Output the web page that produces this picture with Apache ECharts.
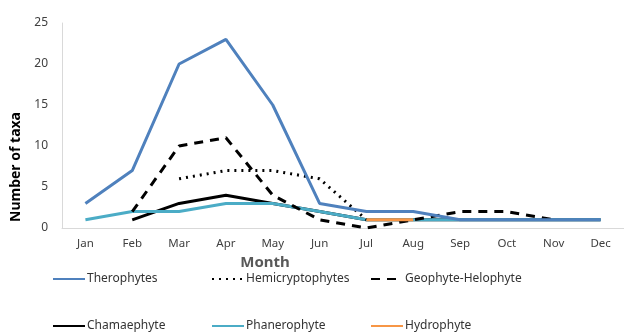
<!DOCTYPE html>
<html><head><meta charset="utf-8">
<script src="https://cdn.jsdelivr.net/npm/echarts@6/dist/echarts.min.js"></script>
<style>html,body{margin:0;padding:0;background:#fff}#c{width:624px;height:333px}</style>
</head><body><div id="c"></div>
<script>
const months = ['Jan','Feb','Mar','Apr','May','Jun','Jul','Aug','Sep','Oct','Nov','Dec'];
const therophytes = [3,7,20,23,15,3,2,2,1,1,1,1];
const hemicryptophytes = [null,null,6,7,7,6,1,null,null,null,null,null];
const geophyteHelophyte = [null,2,10,11,4,1,0,1,2,2,1,null];
const chamaephyte = [null,1,3,4,3,2,1,1,1,1,1,1];
const phanerophyte = [1,2,2,3,3,2,1,1,1,1,1,1];
const hydrophyte = [null,null,null,null,null,null,1,1,null,null,null,null];
const yTicks = [0,5,10,15,20,25];

const font = 'Noto Sans';
const mk = (name, data, color, type, z) => ({
  name, type:'line', data, symbol:'none', z,
  lineStyle:{color, width:3, type},
  itemStyle:{color},
  connectNulls:false
});
const series = [
  mk('Chamaephyte', chamaephyte, '#000000', 'solid', 2),
  mk('Phanerophyte', phanerophyte, '#4BACC6', 'solid', 3),
  mk('Hemicryptophytes', hemicryptophytes, '#000000', [2,5], 4),
  mk('Geophyte-Helophyte', geophyteHelophyte, '#000000', [9,7], 5),
  mk('Therophytes', therophytes, '#4F81BD', 'solid', 6),
  mk('Hydrophyte', hydrophyte, '#F79646', 'solid', 7)
];
const legPos = [
  ['Therophytes',52,280],['Hemicryptophytes',211,280],['Geophyte-Helophyte',370,280],
  ['Chamaephyte',52,327],['Phanerophyte',211,327],['Hydrophyte',370,327]
];
const legends = legPos.map(([n,x,y]) => ({
  data:[n], left:x, top:y-7, itemWidth:32, itemHeight:14, itemGap:4, padding:0,
  itemStyle:{opacity:0},
  textStyle:{fontFamily:font, fontSize:12, color:'#333', padding:[0,0,0,-3]},
  selectedMode:false
}));
const chart = echarts.init(document.getElementById('c'));
chart.setOption({
  animation:false,
  grid:{left:62, top:23, width:574, bottom:105, containLabel:false},
  legend: legends,
  xAxis:{type:'category', data:months, boundaryGap:true,
    axisLine:{lineStyle:{color:'#d9d9d9', width:1}}, axisTick:{show:false},
    axisLabel:{fontFamily:font, fontSize:11.5, color:'#404040', margin:10},
    name:'Month', nameLocation:'middle', nameGap:17,
    nameTextStyle:{fontFamily:font, fontSize:15, fontWeight:'bold', color:'#595959', padding:[0,0,0,-156]}
  },
  yAxis:{type:'value', min:0, max:25, interval:5,
    axisLine:{show:true, lineStyle:{color:'#d9d9d9'}}, axisTick:{show:false},
    splitLine:{show:false},
    axisLabel:{fontFamily:font, fontSize:12, color:'#404040', margin:14}
  },
  graphic:[{type:'text', x:16, y:167, rotation:Math.PI/2,
    style:{text:'Number of taxa', fontFamily:font, fontSize:14, fontWeight:'bold', fill:'#000', align:'center', verticalAlign:'middle'}}],
  series
});
</script></body></html>
